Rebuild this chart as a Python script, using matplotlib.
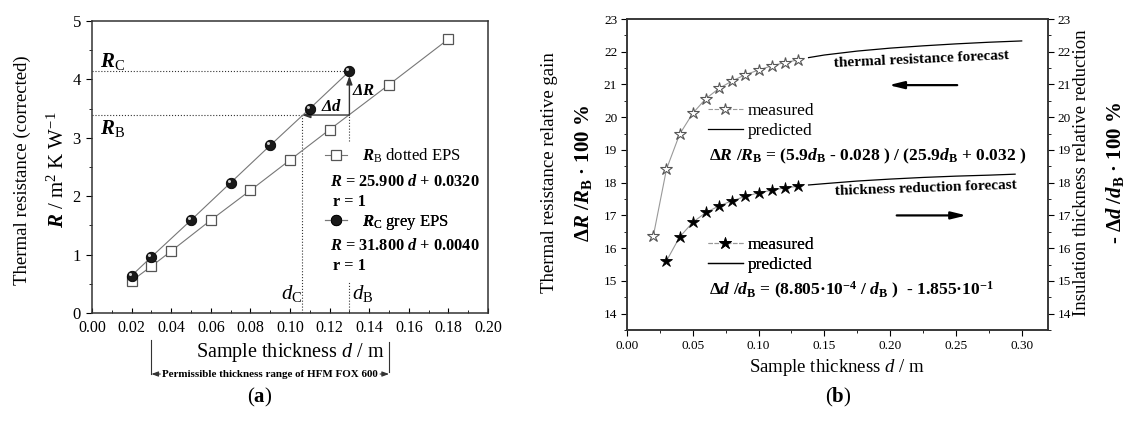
import matplotlib
matplotlib.use("Agg")
import matplotlib.pyplot as plt
import matplotlib.transforms as mtransforms
from matplotlib.lines import Line2D
from matplotlib.ticker import MultipleLocator, FormatStrFormatter

plt.rcParams['font.family'] = ['Liberation Serif', 'DejaVu Serif']
plt.rcParams['mathtext.fontset'] = 'custom'
plt.rcParams['mathtext.rm'] = 'Liberation Serif'
plt.rcParams['mathtext.it'] = 'Liberation Serif:italic'
plt.rcParams['mathtext.bf'] = 'Liberation Serif:bold'
plt.rcParams['mathtext.bfit'] = 'Liberation Serif:italic:bold'

# ---- panel (a): thermal resistance vs thickness
d_dotted = [0.02, 0.03, 0.04, 0.06, 0.08, 0.10, 0.12, 0.15, 0.18]
R_dotted = [0.55, 0.80, 1.06, 1.59, 2.10, 2.62, 3.14, 3.91, 4.69]
d_grey = [0.02, 0.03, 0.05, 0.07, 0.09, 0.11, 0.13]
R_grey = [0.64, 0.96, 1.59, 2.23, 2.87, 3.50, 4.14]
d_B, d_C = 0.13, 0.106
R_B, R_C = 3.39, 4.14
range_lo, range_hi = 0.03, 0.15

# ---- panel (b): relative gain / reduction
d_gain = [0.02, 0.03, 0.04, 0.05, 0.06, 0.07, 0.08, 0.09, 0.10, 0.11, 0.12, 0.13]
gain = [16.37, 18.41, 19.48, 20.12, 20.57, 20.88, 21.11, 21.30, 21.44, 21.57, 21.67, 21.75]
d_gain_pred = [0.138, 0.15, 0.175, 0.20, 0.225, 0.25, 0.275, 0.30]
gain_pred = [21.82, 21.90, 22.02, 22.11, 22.18, 22.24, 22.29, 22.33]
d_thick = [0.03, 0.04, 0.05, 0.06, 0.07, 0.08, 0.09, 0.10, 0.11, 0.12, 0.13]
thick = [15.61, 16.34, 16.79, 17.09, 17.29, 17.45, 17.58, 17.69, 17.77, 17.84, 17.89]
d_thick_pred = [0.138, 0.15, 0.175, 0.20, 0.225, 0.25, 0.275, 0.295]
thick_pred = [17.93, 17.97, 18.05, 18.11, 18.16, 18.20, 18.23, 18.26]

W, H = 1128, 421
fig = plt.figure(figsize=(W/100, H/100), dpi=100)
axa = fig.add_axes([92/W, 1-313/H, 396/W, 292/H])
axb = fig.add_axes([627/W, 1-330/H, 421/W, 311/H])

line_c = '#777777'
dot = dict(ls=':', color='#333333', lw=0.8)

# (a) data
axa.plot(d_dotted, R_dotted, color=line_c, lw=0.8, marker='s', ms=6.5, mfc='white', mec='#555555', mew=0.9, zorder=3)
axa.plot(d_grey, R_grey, color=line_c, lw=0.8, marker='o', ms=7.5, mfc='#1a1a1a', mec='black', mew=0.6, zorder=4)
hl = mtransforms.offset_copy(axa.transData, fig=fig, x=-1.4, y=1.4, units='points')
axa.plot(d_grey, R_grey, ls='none', marker='o', ms=2.2, mfc='#d0d0d0', mec='none', transform=hl, zorder=5)

# construction lines
axa.plot([0, d_B], [R_C, R_C], **dot)
axa.plot([0, d_C], [R_B, R_B], **dot)
axa.plot([d_C, d_C], [0, R_B], **dot)
axa.plot([d_B, d_B], [0, 0.55], **dot)
axa.plot([d_B, d_B], [2.95, R_B], **dot)
arr = dict(arrowstyle='-|>,head_length=0.5,head_width=0.18', color='#333333', lw=1.0, shrinkA=0, shrinkB=0)
axa.annotate('', xy=(d_B, R_C - 0.08), xytext=(d_B, R_B), arrowprops=arr)
axa.annotate('', xy=(d_C, R_B), xytext=(d_B, R_B), arrowprops=arr)

axa.text(0.004, 4.30, r'$\mathbfit{R}_{\mathrm{C}}$', fontsize=15, va='center')
axa.text(0.004, 3.16, r'$\mathbfit{R}_{\mathrm{B}}$', fontsize=15, va='center')
axa.text(0.1155, 3.52, r'$\mathbfit{\Delta d}$', fontsize=12, va='center')
axa.text(0.1315, 3.80, r'$\mathbfit{\Delta R}$', fontsize=12, va='center')
axa.text(0.0955, 0.34, r'$\mathit{d}_{\mathrm{C}}$', fontsize=15, va='center')
axa.text(0.1315, 0.34, r'$\mathit{d}_{\mathrm{B}}$', fontsize=15, va='center')

hB = Line2D([], [], color=line_c, lw=0.8, marker='s', ms=6.5, mfc='white', mec='#555555', mew=0.9)
hC = Line2D([], [], color=line_c, lw=0.8, marker='o', ms=7.5, mfc='#1a1a1a', mec='black', mew=0.6)
leg_kw = dict(loc='upper left', frameon=False, fontsize=12, handlelength=1.3, handletextpad=0.9,
              borderpad=0, borderaxespad=0)
legB = axa.legend([hB], [r'$\mathbfit{R}_{\mathrm{B}}$ dotted EPS'], bbox_to_anchor=(0.588, 0.57), **leg_kw)
axa.add_artist(legB)
legC = axa.legend([hC], [r'$\mathbfit{R}_{\mathrm{C}}$ grey EPS'], bbox_to_anchor=(0.588, 0.344), **leg_kw)
axa.add_artist(legC)
axa.text(0.120, 2.24, r'$\mathbfit{R}$ = 25.900 $\mathbfit{d}$ + 0.0320', fontsize=11.8, fontweight='bold', va='center')
axa.text(0.1215, 1.90, 'r = 1', fontsize=11.8, fontweight='bold', va='center')
axa.text(0.120, 1.15, r'$\mathbfit{R}$ = 31.800 $\mathbfit{d}$ + 0.0040', fontsize=11.8, fontweight='bold', va='center')
axa.text(0.1215, 0.80, 'r = 1', fontsize=11.8, fontweight='bold', va='center')

axa.set_xlim(0, 0.20)
axa.set_ylim(0, 5)
axa.xaxis.set_major_locator(MultipleLocator(0.02))
axa.xaxis.set_minor_locator(MultipleLocator(0.01))
axa.xaxis.set_major_formatter(FormatStrFormatter('%.2f'))
axa.yaxis.set_major_locator(MultipleLocator(1))
axa.yaxis.set_minor_locator(MultipleLocator(0.5))
axa.tick_params(axis='x', which='both', direction='in', top=False, labelsize=11.5, length=3.5, pad=5)
axa.tick_params(axis='x', which='minor', length=2.5)
axa.tick_params(axis='y', which='both', direction='out', right=False, labelsize=12, length=4, pad=4)
axa.tick_params(axis='y', which='minor', length=2.5)
for s in axa.spines.values():
    s.set_linewidth(1.1)
    s.set_color('#333333')

# permissible range bracket
bt = axa.get_xaxis_transform()
axa.plot([range_lo, range_lo], [-0.092, -0.209], color='#333333', lw=0.8, transform=bt, clip_on=False)
axa.plot([range_hi, range_hi], [-0.099, -0.202], color='#333333', lw=0.8, transform=bt, clip_on=False)
small = dict(arrowstyle='-|>,head_length=0.4,head_width=0.15', color='#333333', lw=0.8, shrinkA=0, shrinkB=0)
axa.annotate('', xy=(range_lo, -0.209), xytext=(0.0345, -0.209), xycoords=bt, textcoords=bt, arrowprops=small)
axa.annotate('', xy=(range_hi, -0.209), xytext=(0.1455, -0.209), xycoords=bt, textcoords=bt, arrowprops=small)
axa.text(0.09, -0.209, 'Permissible thickness range of HFM FOX 600', transform=bt, fontsize=7.9,
         fontweight='bold', ha='center', va='center')

fig.text(290/W, 1-353/H, r'Sample thickness $\mathit{d}$ / m', fontsize=14.5, ha='center', va='center')
fig.text(22/W, 1-170/H, 'Thermal resistance (corrected)', fontsize=13.5, rotation=90, ha='center', va='center')
fig.text(58/W, 1-170/H, r'$\mathbfit{R}$ / $\mathrm{m}^{2}$ K $\mathrm{W}^{-1}$', fontsize=15, rotation=90,
         ha='center', va='center')

# (b) data
axb.plot(d_gain, gain, color='#999999', lw=0.8, marker='*', ms=9, mfc='white', mec='#555555', mew=0.8, zorder=3)
axb.plot(d_gain_pred, gain_pred, color='black', lw=0.9)
axb.plot(d_thick, thick, color='#999999', lw=0.8, marker='*', ms=9, mfc='black', mec='black', mew=0.6, zorder=3)
axb.plot(d_thick_pred, thick_pred, color='black', lw=0.9)

hm1 = Line2D([], [], color='#999999', lw=0.8, ls=(0, (4, 1.5)), marker='*', ms=9, mfc='white', mec='#555555', mew=0.8)
hm2 = Line2D([], [], color='#999999', lw=0.8, ls=(0, (4, 1.5)), marker='*', ms=9, mfc='black', mec='black', mew=0.6)
hp = Line2D([], [], color='black', lw=0.9)
legb_kw = dict(loc='upper left', frameon=False, fontsize=12.5, handlelength=2.0, handletextpad=0.3,
               labelspacing=0.2, borderpad=0, borderaxespad=0)
l1 = axb.legend([hm1, hp], ['measured', 'predicted'], bbox_to_anchor=(0.192, 0.730), **legb_kw)
axb.add_artist(l1)
l2 = axb.legend([hm2, hp], ['measured', 'predicted'], bbox_to_anchor=(0.192, 0.299), **legb_kw)
axb.add_artist(l2)

axb.text(0.062, 18.80, r'Δ$\mathbfit{R}$ /$\mathbfit{R}_{\mathbf{B}}$ = (5.9$\mathbfit{d}_{\mathbf{B}}$ - 0.028 ) / (25.9$\mathbfit{d}_{\mathbf{B}}$ + 0.032 )',
         fontsize=12.6, fontweight='bold', va='center')
axb.text(0.062, 14.72, r'Δ$\mathbfit{d}$ /$\mathbfit{d}_{\mathbf{B}}$ = (8.805·$\mathbf{10}^{\mathbf{-4}}$ / $\mathbfit{d}_{\mathbf{B}}$ )  - 1.855·$\mathbf{10}^{\mathbf{-1}}$',
         fontsize=12.6, fontweight='bold', va='center')
axb.text(0.224, 21.76, 'thermal resistance forecast', fontsize=11, fontweight='bold', rotation=2.6,
         rotation_mode='anchor', ha='center', va='center')
axb.text(0.227, 17.84, 'thickness reduction forecast', fontsize=11, fontweight='bold', rotation=2.0,
         rotation_mode='anchor', ha='center', va='center')
big = dict(arrowstyle='-|>,head_length=0.9,head_width=0.22', color='black', lw=1.6, shrinkA=0, shrinkB=0)
axb.annotate('', xy=(0.199, 20.98), xytext=(0.251, 20.98), arrowprops=big)
axb.annotate('', xy=(0.258, 17.00), xytext=(0.205, 17.00), arrowprops=big)

axb.set_xlim(0, 0.32)
axb.set_ylim(13.5, 23)
axb.xaxis.set_major_locator(MultipleLocator(0.05))
axb.xaxis.set_minor_locator(MultipleLocator(0.025))
axb.xaxis.set_major_formatter(FormatStrFormatter('%.2f'))
axb.yaxis.set_major_locator(MultipleLocator(1))
axb.yaxis.set_minor_locator(MultipleLocator(0.5))
axb.tick_params(which='both', direction='out', top=False, right=False, labelsize=9.5, length=4, pad=3)
axb.tick_params(which='minor', length=2.5)
axr = axb.twinx()
axr.set_ylim(13.5, 23)
axr.yaxis.set_major_locator(MultipleLocator(1))
axr.yaxis.set_minor_locator(MultipleLocator(0.5))
axr.tick_params(which='both', direction='out', labelsize=9.5, length=4, pad=3)
axr.tick_params(which='minor', length=2.5)
for ax in (axb, axr):
    for s in ax.spines.values():
        s.set_linewidth(1.1)
        s.set_color('#333333')

fig.text(837/W, 1-367/H, r'Sample thickness $\mathit{d}$ / m', fontsize=13.5, ha='center', va='center')
fig.text(550/W, 1-173/H, 'Thermal resistance relative gain', fontsize=13.5, rotation=90, ha='center', va='center')
fig.text(584/W, 1-173/H, r'Δ$\mathbfit{R}$ /$\mathbfit{R}_{\mathbf{B}}$ · 100 %', fontsize=15, fontweight='bold',
         rotation=90, ha='center', va='center')
fig.text(1081/W, 1-173/H, 'Insulation thickness relative reduction', fontsize=13.5, rotation=90, ha='center', va='center')
fig.text(1115/W, 1-173/H, r'- Δ$\mathbfit{d}$ /$\mathbfit{d}_{\mathbf{B}}$ · 100 %', fontsize=15, fontweight='bold',
         rotation=90, ha='center', va='center')

fig.text(260/W, 1-397/H, r'($\mathbf{a}$)', fontsize=15, ha='center', va='center')
fig.text(838/W, 1-397/H, r'($\mathbf{b}$)', fontsize=15, ha='center', va='center')

fig.savefig('out.png', dpi=100)
